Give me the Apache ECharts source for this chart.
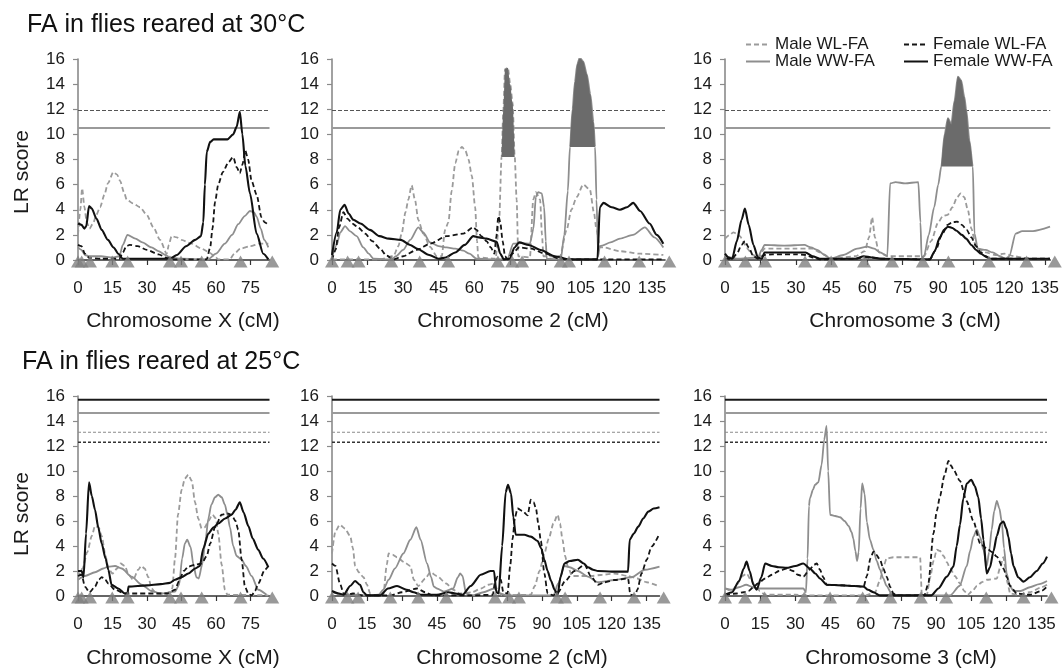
<!DOCTYPE html>
<html><head><meta charset="utf-8">
<script src="https://cdn.jsdelivr.net/npm/echarts@6/dist/echarts.min.js"></script>
<style>html,body{margin:0;padding:0;background:#fff}#c{width:1062px;height:670px}</style>
</head><body><div id="c"></div>
<script>
// ---------------- DATA ----------------
const seriesNames = ['Male WL-FA', 'Female WL-FA', 'Male WW-FA', 'Female WW-FA'];
const panelTitles = ['FA in flies reared at 30°C', 'FA in flies reared at 25°C'];
const axisTitles = ['Chromosome X (cM)', 'Chromosome 2 (cM)', 'Chromosome 3 (cM)'];
const yAxisTitle = 'LR score';
const xTickValues = [0, 15, 30, 45, 60, 75, 90, 105, 120, 135];
const chromLength = { X: 83.3, c2: 140.5, c3: 137.3 };

// marker (triangle) positions along each chromosome, cM
const markersX = [0, 1.6, 5.2, 14.9, 21.6, 40, 44.8, 53.8, 70.7, 84.5];
const markers2 = [0, 6.6, 11.2, 25, 37, 49, 70, 76, 80.2, 96.5, 100, 115, 129.6, 142.3];
const markers3 = [0, 8.6, 16.9, 33.8, 44.8, 58.7, 70.5, 83.5, 94.3, 111.4, 127.3, 139.2];

// significance thresholds (LR)
const thresholds30 = [11.9, 10.5];               // WL-FA, WW-FA
const thresholds25 = [15.7, 14.65, 13.1, 12.3];  // Female WW, Male WW, Male WL, Female WL

// ---- 30°C, chromosome X ----
const x30MaleWL = [[0,2.0],[1,4],[1.8,5.7],[2.8,4.2],[3.8,3.0],[5,2.5],[6.5,2.9],[8,3.6],[9.6,4.2],[11.5,5.2],[13,6.1],[15.4,7.0],[17,6.8],[18.3,6.3],[20,5.4],[21.2,4.8],[24,4.5],[27,4.2],[29.9,3.6],[32.8,2.6],[35.7,1.6],[38.6,0.5],[39.5,1.2],[40.7,1.9],[43,1.8],[45,1.6],[49.4,1.3],[53.8,0.9],[56.7,0.65],[59.6,0.27],[61,0.05],[66,0.05],[68,0.5],[70.6,0.9],[75,1.1],[79,1.3],[82.8,1.3]];
const x30FemaleWL = [[0,1.2],[1.5,1.1],[3,0.5],[5,0.15],[10,0.1],[18,0.1],[19.5,0.6],[21,1.1],[22.5,1.2],[26,1.1],[30,0.8],[35,0.45],[39,0.15],[42,0.05],[56,0.05],[57.5,1.0],[58.5,2.5],[59.6,4.6],[61,6.0],[63,7.0],[65.5,7.8],[67.5,8.2],[69,7.4],[70.4,6.9],[71.5,7.6],[72.8,8.7],[74,8.0],[75.5,6.3],[77.7,5.2],[79.8,3.4],[81.2,3.0],[82.8,2.8]];
const x30MaleWW = [[0,1.0],[1.5,0.8],[3,0.4],[5,0.3],[10,0.3],[15,0.2],[18,0.3],[19.5,1.2],[21.5,2.0],[25,1.7],[28,1.4],[32,1.0],[35,0.7],[38,0.4],[40,0.2],[45,0.1],[56.5,0.05],[60,0.5],[63.9,1.3],[67,2.0],[69.7,2.85],[72.5,3.5],[74.8,3.9],[76.5,3.8],[77.7,3.45],[79.5,2.5],[81,1.6],[82.8,1.0]];
const x30FemaleWW = [[0,2.9],[1.5,2.8],[2.8,2.5],[3.6,2.7],[4.8,4.3],[6,4.1],[8,3.3],[10.3,2.4],[13,1.6],[15.5,1.0],[17.5,0.5],[19.5,0.1],[30,0.1],[40,0.1],[43,0.4],[47,1.1],[51,1.6],[53.5,1.9],[54.5,3.0],[55.2,6.0],[56,8.6],[57.5,9.4],[59,9.6],[62,9.6],[65,9.6],[67.5,10.0],[69,10.6],[70.4,11.8],[71.5,10.0],[72.8,7.5],[74.8,5.3],[77.7,2.1],[80.6,0.5],[82.8,0.05]];

// ---- 30°C, chromosome 2 ----
const c2_30MaleWL = [[0,0.05],[20,0.05],[25.9,0.3],[28,1.1],[29.4,2.1],[31,3.8],[32.2,4.8],[33.6,5.95],[35,4.8],[36.4,3.2],[38.5,2.1],[41.4,1.05],[44.2,0.3],[46.3,0.3],[47.7,2.4],[49.1,3.0],[50.5,5.5],[52,7.7],[53.5,8.7],[54.8,9.0],[56.3,8.7],[57.6,8.0],[59,6.7],[60.4,4.2],[61.2,1.5],[61.7,0.2],[69,0.1],[70.5,3.0],[71.55,8.2],[72.3,12.0],[73,15.2],[74.2,15.3],[75.2,14.0],[76.2,12.5],[77.1,8.2],[77.9,4.8],[78.6,0.3],[83.5,0.2],[84.9,4.8],[86,5.4],[87.8,4.8],[88.6,2.0],[89.2,0.3],[96.2,0.3],[99,2.4],[101,4.0],[103.2,5.0],[106,6.0],[108.8,5.6],[110.5,3.8],[111.6,2.4],[113,1.0],[114.5,1.0],[121.5,0.7],[130,0.5],[139.8,0.4]];
const c2_30FemaleWL = [[0,0],[1.5,0.8],[3,2.6],[4.8,3.8],[6.5,3.3],[8.6,2.9],[11,2.6],[14,2.1],[17,1.5],[20.3,0.9],[23,0.35],[26,0.05],[30,0.3],[35.7,0.8],[41.4,1.3],[48.4,1.9],[55.4,2.1],[59.6,2.6],[61,2.4],[63,1.9],[65.2,1.5],[67,1.0],[68.5,0.5],[69.3,1.8],[70.2,3.5],[71,3.0],[72,1.5],[73,0.3],[74,0.05],[76,0.5],[79,1.0],[84,0.9],[90,0.5],[96,0.1],[100,0.05],[139.8,0.05]];
const c2_30MaleWW = [[0,0.2],[2,1.2],[3.5,2.2],[5.5,2.7],[7.5,2.3],[10.4,1.9],[13.2,1.0],[15.5,0.5],[17.5,0.1],[25,0.05],[27,0.3],[30,0.8],[33,1.6],[36.4,2.6],[38.5,2.2],[41.4,1.4],[45,1.1],[48.4,1.0],[52,0.9],[55.4,0.75],[58,0.5],[61,0.1],[70,0.05],[74,0.1],[76.5,1.3],[80,1.35],[83.5,1.3],[85,2.5],[86,5.0],[87,5.4],[88.5,5.3],[89.5,4.2],[90.2,1.5],[90.6,0.1],[96.5,0.05],[98,2.0],[99.5,5.5],[100.4,9.0],[101.5,12.0],[102.5,14.2],[103.5,15.6],[104.5,16.1],[106,15.8],[107.5,14.8],[109,13.2],[110.3,11.0],[111,9.0],[111.6,4.8],[112.3,0.3],[113,1.1],[114,1.15],[117.5,1.4],[121.5,1.7],[127,2.0],[132,2.6],[136,1.8],[139.8,1.0]];
const c2_30FemaleWW = [[0,0.4],[2,2.2],[3.5,4.0],[5.3,4.4],[7,3.7],[9,3.2],[12,2.9],[16,2.4],[20,1.9],[24,1.7],[29,1.6],[33,1.2],[36,0.9],[41,0.4],[45,0.1],[48,0.2],[52,0.6],[56,1.2],[59.6,1.9],[62,1.8],[65.2,1.7],[69.5,1.45],[71,0.5],[72.5,0.05],[75,0.1],[77,1.0],[79,1.4],[83,1.2],[88,0.8],[94,0.3],[100,0.05],[112,0.05],[113,4.2],[114.5,4.55],[118,4.2],[121.5,4.0],[124.5,4.2],[127.1,4.55],[130,3.9],[134,2.9],[137,2.0],[139.8,1.3]];

// ---- 30°C, chromosome 3 ----
const c3_30MaleWL = [[0,1.7],[2,2.0],[3.5,2.2],[5,2.1],[6.3,1.9],[8,1.4],[9.1,0.95],[11.9,0.4],[14,0.1],[16.7,0.9],[20,0.9],[30,0.9],[34,0.9],[37,0.9],[40,0.6],[45,0.1],[55,0.3],[59,0.7],[60.8,1.8],[62.1,3.4],[63.3,1.8],[65,0.6],[69,0.3],[80,0.3],[84,0.3],[87,1.5],[90,3.0],[92,3.5],[94,3.6],[96,4.2],[98,5.0],[99.5,5.3],[101,5.0],[102.5,4.0],[104,2.5],[106,1.0],[110,0.6],[114,0.4],[118,0.5],[122,0.3],[128,0.1],[137.2,0.05]];
const c3_30FemaleWL = [[0,0.1],[3,0.1],[5,0.5],[7,1.2],[8.4,1.5],[10,1.0],[12,0.3],[13.9,0.1],[16.7,0.4],[20,0.45],[30,0.45],[34,0.4],[37,0.2],[40,0.05],[55,0.1],[58,0.2],[62,0.2],[66,0.1],[86.5,0.05],[89,0.8],[91.5,2.0],[94,2.8],[96,3.0],[98,3.05],[100,2.8],[102,2.4],[104,1.8],[106,1.1],[108,0.6],[110,0.3],[112,0.1],[137.2,0.1]];
const c3_30MaleWW = [[0,0.3],[5,0.1],[13.9,0.2],[15.5,0.8],[16.7,1.2],[25,1.15],[33.5,1.2],[36.3,1.0],[39,0.8],[42,0.4],[44.6,0.1],[50,0.4],[55.8,0.9],[60,1.06],[63,0.9],[65.5,0.6],[68.5,0.3],[69.7,6.1],[72,6.2],[76,6.1],[81.6,6.2],[82.5,3.0],[83,0.2],[84,0.3],[86,2.0],[88.3,4.2],[90,6.0],[91.3,7.45],[92.7,10.0],[94.1,11.3],[95.5,10.8],[96.9,12.7],[98.3,14.6],[99.7,14.3],[101,13.0],[101.8,12.0],[103.2,9.5],[104.6,7.45],[105.3,2.1],[106.7,0.9],[110,0.8],[113,0.6],[116,0.3],[118.5,0.1],[120,0.3],[122.7,2.1],[125.5,2.3],[130,2.3],[137.2,2.65]];
const c3_30FemaleWW = [[0,0.5],[1.5,0.2],[3,0.1],[5,1.5],[7,3.2],[8.4,4.1],[10,2.8],[12,1.2],[13.9,0.2],[15.5,0.1],[16.7,0.6],[20,0.6],[30,0.6],[34,0.6],[37,0.3],[40,0.1],[55,0.1],[58.6,0.3],[62,0.2],[66,0.1],[86.5,0.05],[88.5,0.7],[90.7,1.8],[92.5,2.4],[94.1,2.65],[96,2.55],[97.6,2.35],[100,2.0],[101.8,1.7],[104,1.2],[106,0.8],[108,0.5],[110.2,0.25],[112,0.1],[137.2,0.1]];

// ---- 25°C, chromosome X ----
const x25MaleWL = [[0,1.5],[2,2.2],[4,3.5],[6,4.8],[7.4,5.6],[9,5.5],[10.3,4.8],[12,3.2],[13.2,2.2],[15,1.8],[17,2.2],[18.5,2.6],[20.4,2.4],[22,1.7],[24,1.3],[26.2,2.1],[27.5,2.4],[29,2.2],[30.6,1.5],[32,0.6],[34,0.2],[39,0.2],[41,0.6],[42.2,3.0],[43.5,6.5],[45.1,8.5],[46.5,9.4],[48,9.7],[49.5,9.2],[50.9,7.5],[52.3,6.2],[53.8,5.4],[55.2,5.5],[56.7,6.0],[58.5,6.5],[60,6.2],[61,5.0],[62.5,2.5],[63.9,0.5],[65,0.1],[82.8,0.05]];
const x25FemaleWL = [[0,1.6],[1.6,1.7],[3,0.75],[5,0.3],[7.4,0.75],[9,1.3],[10.3,1.5],[11.5,1.4],[13.2,1.0],[16.1,0.5],[20.4,0.2],[39,0.2],[42.2,0.5],[44,1.2],[46,2.0],[48,2.35],[50.9,2.5],[53.8,2.6],[56,3.2],[57.5,4.2],[59.6,5.5],[62.5,6.5],[65,6.6],[66.8,6.5],[68.5,6.0],[69.7,5.3],[71.2,2.9],[72.6,0.75],[74.1,0.2],[75.5,0.05],[77,0.4],[78.4,1.0],[81.3,2.1],[82.8,2.4]];
const x25MaleWW = [[0,1.3],[3,1.6],[7.4,1.9],[11,2.2],[13.2,2.35],[16.1,2.4],[19,2.2],[23.3,1.55],[27.7,0.9],[32,0.4],[36,0.2],[42.2,0.35],[44,0.9],[45.3,3.0],[46.5,4.2],[47.5,4.5],[49,3.9],[50.2,2.5],[51.5,1.5],[52.5,1.4],[54,2.5],[55.5,4.5],[56.7,6.2],[58,7.3],[59.6,7.9],[61,8.1],[62.5,7.9],[63.9,7.3],[65,6.5],[66.1,5.5],[67.5,4.0],[69,3.2],[71.2,2.9],[73,2.4],[75.5,1.6],[78.4,0.5],[82,0.1]];
const x25FemaleWW = [[0,2.0],[1.6,2.0],[2.4,1.5],[3.5,5.0],[4.8,9.1],[6,8.0],[7.4,6.9],[8.8,5.5],[10.3,4.2],[12,3.0],[13.2,2.1],[14.6,0.9],[17.5,0.6],[20.4,0.2],[21.5,0.2],[22,0.75],[30,0.85],[36,0.95],[40,1.05],[42.2,1.3],[45,1.5],[48,1.8],[51,2.2],[53,2.4],[54.5,3.8],[56.7,5.0],[59,5.5],[61,5.8],[64,6.2],[66.8,6.5],[68.5,6.9],[70.4,7.5],[72,6.7],[74.1,5.6],[76,4.6],[78.4,3.7],[80.5,3.0],[82.8,2.3]];

// ---- 25°C, chromosome 2 ----
const c2_25MaleWL = [[0,3.4],[1.5,5.2],[3.4,5.7],[5.5,5.4],[7.8,4.8],[9,3.8],[9.9,2.4],[11.5,1.9],[13.5,1.5],[15,0.9],[16.4,0.2],[18,0.05],[22,0.1],[23.5,2.5],[24.3,3.4],[26,3.3],[27.9,3.1],[31,2.7],[33.6,2.4],[35.1,1.3],[37,0.8],[40,1.4],[42.2,1.9],[45,1.6],[49,1.0],[52,0.5],[55,0.2],[60,0.3],[64,0.6],[67,0.9],[69.5,1.0],[71.5,0.3],[73,0.05],[85.3,0.1],[87,0.8],[89,2.0],[91.1,3.4],[93,4.6],[95,5.8],[96.8,6.5],[97.8,5.8],[98.9,4.5],[100,3.2],[101.1,2.4],[103,1.6],[106,1.6],[111.3,1.6],[116,1.7],[121.3,1.8],[127,1.6],[131,1.4],[135,1.1],[140.5,0.75]];
const c2_25FemaleWL = [[0,2.6],[1.5,2.4],[3.4,1.0],[5,0.2],[6.5,0.1],[9,0.2],[13,0.05],[25,0.05],[30,0.3],[36.5,0.6],[40,0.3],[43,0.05],[60,0.05],[69,0.1],[70,1.2],[71,1.55],[72.4,1.3],[73.5,0.3],[75.3,0.2],[76.5,2.5],[77.5,4.6],[78.5,6.3],[79.6,7.0],[81.7,6.8],[83.9,6.45],[85.3,7.7],[86.5,7.5],[87.5,7.0],[88.5,5.8],[89.6,4.4],[91.1,1.8],[92.5,0.2],[95,0.05],[97,0.3],[100,1.2],[104,2.0],[108.4,2.5],[111,1.6],[114.1,0.9],[117,1.1],[121.3,1.28],[127,1.4],[128,0.1],[130,0.05],[131,0.5],[132.8,1.8],[135,2.9],[137.1,3.95],[140.5,5.0]];
const c2_25MaleWW = [[0,0.3],[5,0.1],[10,0.1],[15,0.05],[20,0.1],[22,0.5],[24.3,1.3],[27,2.2],[30.6,3.4],[33.6,4.5],[36.2,5.5],[38,4.5],[40.8,2.6],[42.5,1.5],[43.7,0.75],[45,0.6],[48,0.35],[52,0.6],[54,1.5],[55,1.8],[56,1.6],[57.5,0.2],[60,0.05],[65,0.3],[69.5,0.6],[72,0.2],[75,0.05],[95,0.05],[97,1.0],[99.7,2.4],[102,2.3],[105.5,2.0],[109.8,1.55],[114.1,1.1],[121.3,1.28],[128.5,1.5],[134.2,2.1],[140.5,2.35]];
const c2_25FemaleWW = [[0,0.4],[3,0.2],[5,0.1],[7.8,0.8],[9.9,1.2],[12,0.9],[13.5,0.3],[15,0.05],[20.7,0.05],[24,0.6],[27.9,0.8],[32,0.5],[35,0.3],[38,0.1],[45,0.1],[50,0.3],[53,0.2],[56,0.1],[59.5,0.8],[63.8,1.7],[68,2.0],[69.5,2.0],[70.5,0.3],[71.5,0.2],[73,4.0],[74.5,8.3],[75.5,8.9],[76.8,8.2],[77.8,6.3],[78.8,4.9],[82.5,4.9],[85.3,4.75],[88.2,4.4],[89.8,3.8],[91.1,2.9],[92.5,2.0],[94,1.2],[95.5,0.5],[96.8,0.1],[98,1.5],[99.7,2.6],[102,2.8],[105.5,2.9],[108,2.6],[109.8,2.3],[112,2.1],[114.1,2.0],[120,1.95],[127,1.95],[127.7,4.5],[129.5,5.0],[131.4,5.55],[133.5,6.2],[135.7,6.75],[138,7.0],[140.5,7.1]];

// ---- 25°C, chromosome 3 ----
const c3_25MaleWL = [[0,0.6],[3,0.4],[5,0.9],[7.5,1.6],[9.2,1.8],[11,1.3],[13,0.8],[14.9,0.4],[17,0.1],[30,0.1],[35,0.05],[60,0.05],[64,0.3],[66,1.2],[67.5,2.3],[68.9,3.0],[71.8,3.1],[78,3.1],[83.2,3.1],[83.9,0.2],[86,0.05],[87.5,1.5],[88.9,2.8],[90.3,3.7],[91.7,3.6],[93.2,3.2],[94.6,2.7],[96,2.2],[98,1.6],[100.2,1.0],[102,0.4],[103.5,0.1],[105.5,0.4],[107.4,0.8],[109.5,1.1],[111.6,1.3],[115.9,1.4],[117.2,2.2],[118.7,3.1],[119.6,2.2],[120.5,1.0],[121.6,0.2],[125,0.1],[130,0.3],[135,0.7],[137.3,0.9]];
const c3_25FemaleWL = [[0,0.1],[5,0.2],[8,0.3],[10,0.4],[12.1,0.7],[14,1.0],[17.1,1.4],[20,1.7],[23,2.0],[26.3,2.2],[29,2.0],[31,1.7],[33.4,1.55],[36,2.1],[38,2.5],[39.1,2.6],[40.5,2.1],[41.9,1.5],[43.4,0.9],[50,0.85],[55,0.8],[59.1,0.75],[60.5,1.6],[62,3.0],[63.3,3.55],[64.5,3.3],[66.1,2.9],[67.5,2.2],[68.9,1.55],[70.5,0.7],[71.8,0.2],[73,0.05],[85,0.05],[86.7,1.0],[88.9,5.0],[90.3,6.8],[91.7,8.0],[93.5,9.6],[95.3,10.8],[96.5,10.4],[97.4,10.1],[100.2,9.2],[103,7.6],[105.9,6.0],[108.8,4.2],[111.6,3.8],[114,3.5],[115.9,3.15],[118.7,2.2],[120.2,1.5],[121.6,0.8],[124.4,0.2],[130,0.1],[135,0.4],[137.3,0.75]];
const c3_25MaleWW = [[0,0.6],[3,0.5],[6,0.7],[9,0.9],[12,0.7],[14,0.6],[20,0.6],[30,0.6],[33.4,0.6],[34.5,0.3],[35.2,3.0],[35.8,7.2],[36.2,7.8],[37.5,8.5],[38.4,8.9],[39.8,9.1],[41.2,10.5],[42.3,12.5],[43.3,13.6],[44,10.0],[44.8,6.5],[47,6.4],[49.1,6.3],[51,6.0],[52.7,5.6],[54,5.1],[54.7,4.6],[55.6,3.6],[56.3,2.8],[57,3.5],[57.8,7.0],[58.5,9.0],[59.5,8.2],[60.5,5.9],[61.8,4.5],[63.3,3.7],[64.7,2.8],[66.1,2.1],[67.5,1.4],[68.9,0.8],[71,0.2],[73,0.05],[96,0.05],[100,0.8],[103.1,2.4],[104.5,3.6],[105.9,4.75],[107.4,5.3],[108.8,4.7],[110.2,3.7],[111.6,2.4],[112.6,3.5],[113.7,5.3],[114.8,6.8],[115.9,7.6],[117,7.0],[118,5.95],[119,3.8],[120.1,1.8],[121.5,0.8],[123,0.4],[126,0.4],[130,0.7],[134,0.95],[137.3,1.2]];
const c3_25FemaleWW = [[0,0.1],[3,0.3],[6,1.2],[8,2.2],[9.2,2.75],[10.5,2.0],[12.1,0.9],[13.5,0.5],[15.5,1.5],[17.1,2.6],[20,2.4],[23,2.3],[26.3,2.25],[30,2.4],[33.4,2.6],[36.2,2.2],[38.5,1.8],[40.5,1.4],[43.4,0.9],[50,0.85],[55,0.8],[59.1,0.75],[61,0.5],[63.3,0.3],[66,0.05],[88,0.05],[91,0.6],[94.6,1.55],[97.4,2.35],[98.8,4.0],[100.2,5.7],[101.6,7.8],[103.1,9.0],[105,9.3],[106.5,8.8],[108,7.9],[109.2,6.2],[110.2,4.5],[111.6,1.8],[113,2.3],[114.5,3.6],[115.9,4.8],[117.5,5.8],[118.7,5.95],[120,5.4],[120.8,4.75],[122,3.4],[123,2.4],[125,1.5],[127.3,1.15],[130,1.5],[132.9,2.0],[135.5,2.6],[137.3,3.15]];

// shaded support intervals: [panel index, series index, from cM, to cM, base LR]
const shadedRegions = [[1, 0, 71.55, 77.1, 8.2], [1, 2, 100.4, 111, 9.0], [2, 2, 91.3, 104.6, 7.45]];

// ---------------- LAYOUT / STYLE ----------------
const FONT = '"Liberation Sans", Arial, Helvetica, sans-serif';
const panels = [
  { grid: { left: 78, top: 59, width: 191.5, height: 201 }, max: chromLength.X, markers: markersX, data: [x30MaleWL, x30FemaleWL, x30MaleWW, x30FemaleWW], thr: thresholds30, row: 0, name: axisTitles[0], nameX: 183 },
  { grid: { left: 332, top: 59, width: 333, height: 201 }, max: chromLength.c2, markers: markers2, data: [c2_30MaleWL, c2_30FemaleWL, c2_30MaleWW, c2_30FemaleWW], thr: thresholds30, row: 0, name: axisTitles[1], nameX: 513 },
  { grid: { left: 725, top: 59, width: 328, height: 201 }, max: chromLength.c3, markers: markers3, data: [c3_30MaleWL, c3_30FemaleWL, c3_30MaleWW, c3_30FemaleWW], thr: thresholds30, row: 0, name: axisTitles[2], nameX: 905 },
  { grid: { left: 78, top: 396, width: 191.5, height: 200 }, max: chromLength.X, markers: markersX, data: [x25MaleWL, x25FemaleWL, x25MaleWW, x25FemaleWW], thr: thresholds25, row: 1, name: axisTitles[0], nameX: 183 },
  { grid: { left: 332, top: 396, width: 327.5, height: 200 }, max: chromLength.c2, markers: markers2, data: [c2_25MaleWL, c2_25FemaleWL, c2_25MaleWW, c2_25FemaleWW], thr: thresholds25, row: 1, name: axisTitles[1], nameX: 512 },
  { grid: { left: 725, top: 396, width: 322, height: 200 }, max: chromLength.c3, markers: markers3, data: [c3_25MaleWL, c3_25FemaleWL, c3_25MaleWW, c3_25FemaleWW], thr: thresholds25, row: 1, name: axisTitles[2], nameX: 901 }
];
const lineStyles = [
  { color: '#9b9b9b', width: 1.8, type: [5, 3] },
  { color: '#151515', width: 1.8, type: [5, 3] },
  { color: '#8e8e8e', width: 1.8, type: 'solid' },
  { color: '#111111', width: 2.1, type: 'solid' }
];
const thrStyles30 = [
  { color: '#555', width: 1.1, type: [4, 2] },
  { color: '#9a9a9a', width: 2, type: 'solid' }
];
const thrStyles25 = [
  { color: '#1a1a1a', width: 2, type: 'solid' },
  { color: '#9a9a9a', width: 2, type: 'solid' },
  { color: '#8a8a8a', width: 1, type: [3, 2] },
  { color: '#333', width: 1.3, type: [3, 2] }
];
const drawOrder = [0, 2, 1, 3];

const grids = [], xAxes = [], yAxes = [], series = [], graphics = [];
panels.forEach((p, i) => {
  const ticks = xTickValues.filter(v => v <= p.max);
  grids.push(Object.assign({ containLabel: false }, p.grid));
  xAxes.push({
    type: 'value', gridIndex: i, min: 0, max: p.max, interval: 15,
    axisLine: { show: true, onZero: false, lineStyle: { color: '#333', width: 1.6 } },
    axisTick: { show: true, inside: false, length: 5, customValues: ticks, lineStyle: { color: '#333', width: 1.2 } },
    axisLabel: { customValues: ticks, margin: 20, fontSize: 17, color: '#1a1a1a', fontFamily: FONT },
    splitLine: { show: false }
  });
  yAxes.push({
    type: 'value', gridIndex: i, min: 0, max: 16, interval: 2,
    axisLine: { show: true, lineStyle: { color: '#8a8a8a', width: 1.6 } },
    axisTick: { show: true, inside: false, length: 5, lineStyle: { color: '#8a8a8a', width: 1.2 } },
    axisLabel: { margin: 13, fontSize: 17, color: '#1a1a1a', fontFamily: FONT },
    splitLine: { show: false }
  });
  const tStyles = p.thr.length === 2 ? thrStyles30 : thrStyles25;
  p.thr.forEach((v, k) => {
    series.push({
      type: 'line', name: 'threshold', xAxisIndex: i, yAxisIndex: i, silent: true, symbol: 'none',
      data: [[0, v], [p.max, v]], lineStyle: tStyles[k], z: 1
    });
  });
  drawOrder.forEach(s => {
    series.push({
      type: 'line', name: seriesNames[s], xAxisIndex: i, yAxisIndex: i, data: p.data[s],
      symbol: 'none', showSymbol: false, smooth: 0.25, smoothMonotone: 'x', silent: true,
      lineStyle: lineStyles[s], itemStyle: { color: lineStyles[s].color }, z: 3 + (s === 3 ? 1 : 0)
    });
  });
  series.push({
    type: 'scatter', name: 'markers', xAxisIndex: i, yAxisIndex: i, silent: true,
    data: p.markers.map(m => [m, 0]), symbol: 'triangle', symbolSize: [14, 12], symbolOffset: [0, 1.5],
    itemStyle: { color: '#7f7f7f' }, clip: false, z: 10
  });
  graphics.push({
    type: 'text', x: p.nameX, y: p.row === 0 ? 321 : 658,
    style: { text: p.name, font: '21px ' + FONT, fill: '#1a1a1a', align: 'center', verticalAlign: 'middle' }
  });
});
shadedRegions.forEach(([pi, si, a, b, base]) => {
  series.push({
    type: 'line', name: 'support', xAxisIndex: pi, yAxisIndex: pi, silent: true, symbol: 'none',
    smooth: 0.25, smoothMonotone: 'x',
    data: panels[pi].data[si].filter(pt => pt[0] >= a && pt[0] <= b),
    lineStyle: { width: 0 }, areaStyle: { origin: base, color: '#6b6b6b', opacity: 1 }, z: 5
  });
});
graphics.push(
  { type: 'text', x: 27, y: 25, style: { text: panelTitles[0], font: '25px ' + FONT, fill: '#111', align: 'left', verticalAlign: 'middle' } },
  { type: 'text', x: 22, y: 362, style: { text: panelTitles[1], font: '25px ' + FONT, fill: '#111', align: 'left', verticalAlign: 'middle' } },
  { type: 'text', x: 22, y: 172, rotation: Math.PI / 2, style: { text: yAxisTitle, font: '21px ' + FONT, fill: '#1a1a1a', align: 'center', verticalAlign: 'middle' } },
  { type: 'text', x: 22, y: 514, rotation: Math.PI / 2, style: { text: yAxisTitle, font: '21px ' + FONT, fill: '#1a1a1a', align: 'center', verticalAlign: 'middle' } }
);

const legendBase = {
  orient: 'vertical', top: 36, itemGap: 0, itemWidth: 24, itemHeight: 10, padding: 0,
  itemStyle: { opacity: 0, color: 'rgba(0,0,0,0)', borderColor: 'rgba(0,0,0,0)', borderWidth: 0 },
  selectedMode: false, textStyle: { fontSize: 17, fontFamily: FONT, color: '#1a1a1a', lineHeight: 17 }
};

const chart = echarts.init(document.getElementById('c'), null, { renderer: 'canvas' });
chart.setOption({
  animation: false,
  backgroundColor: '#fff',
  textStyle: { fontFamily: FONT },
  grid: grids, xAxis: xAxes, yAxis: yAxes, series: series,
  legend: [
    Object.assign({}, legendBase, { left: 745, data: [seriesNames[0], seriesNames[2]] }),
    Object.assign({}, legendBase, { left: 903, data: [seriesNames[1], seriesNames[3]] })
  ],
  graphic: graphics
});
</script></body></html>
